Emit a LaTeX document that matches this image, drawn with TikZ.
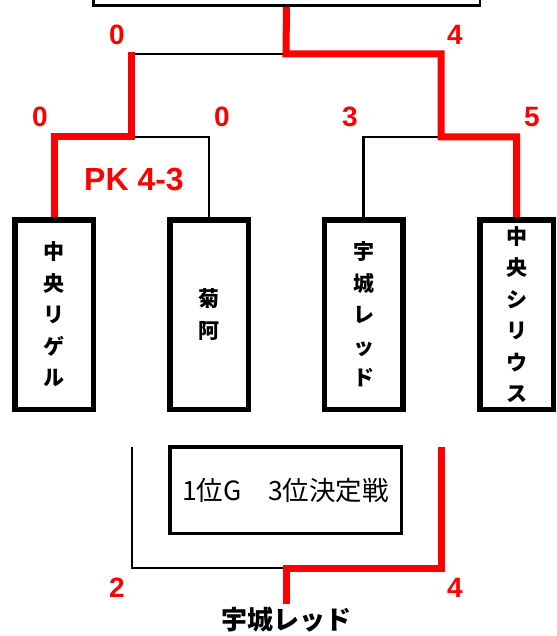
\documentclass[tikz,border=0pt]{standalone}
\usepackage{fontspec}
\newfontfamily\jp{Noto Sans CJK JP}
\newfontfamily\lsans{Liberation Sans}
\begin{document}
\begin{tikzpicture}[x=1pt,y=-1pt,
  team/.style={draw=black,line width=5.5pt,minimum width=78.5pt,minimum height=189.5pt,inner sep=0pt,
    align=center,font={\jp\bfseries\fontsize{21}{31.5}\selectfont}},
  blk/.style={draw=black,line width=2.7pt},
  red/.style={draw=red,line width=7pt,miter limit=10},
  score/.style={text=red,inner sep=0pt,font={\lsans\bfseries\fontsize{28}{30}\selectfont}}]
\useasboundingbox (0,0) rectangle (556,636);
\clip (0,0) rectangle (556,636);
\fill[white] (0,0) rectangle (556,636);
% top (final) box, mostly off the picture
\node[draw=black,line width=2.5pt,minimum width=386.5pt,minimum height=100pt,inner sep=0pt] (final) at (286.5,-44.25) {};
% teams
\node[team] (b1) at (54,314.5) {中\\央\\リ\\ゲ\\ル};
\node[team] (b2) at (209,314.5) {菊\\阿};
\node[team] (b3) at (363.5,314.5) {宇\\城\\レ\\ッ\\ド};
\node[team,minimum width=73.5pt] (b4) at (516.5,314.5) {中\\央\\シ\\リ\\ウ\\ス};
% third place box
\node[draw=black,line width=3.5pt,minimum width=231.5pt,minimum height=86.5pt,inner sep=0pt,
  font={\jp\fontsize{26.5}{30}\selectfont}] (third) at (285.5,490) {1位G　3位決定戦};
% junctions
\coordinate (jF) at (286,54);
\coordinate (jL) at (131,54);
\coordinate (jR) at (441,54);
\coordinate (qL) at (131,137);
\coordinate (qR) at (441,137);
\coordinate (lL) at (132,447);
\coordinate (lR) at (441,447);
\coordinate (w) at (286,568);
% winner
\node[inner sep=3pt,font={\jp\bfseries\fontsize{26}{30}\selectfont}] (champ) at (286,620) {宇城レッド};
% black connectors
\draw[blk] (jL) -- (jF);
\draw[blk] (qL) -- (qL -| b2.north) -- (b2.north);
\draw[blk] (qR) -- (qR -| b3.north) -- (b3.north);
\draw[blk] (lL) -- (lL |- w) -- (w);
% red connectors
\draw[red] (final.south) -- (jF) -- (jR) -- (qR) -- (qR -| b4.north) -- (b4.north);
\draw[red] ([yshift=1.5pt]jL) -- (qL) -- (qL -| b1.north) -- (b1.north);
\draw[red] (lR) -- (lR |- w) -- (w) -- (champ.north);
% scores
\node[score] (s1) at (117,35) {0};
\node[score] (s2) at (455,35) {4};
\node[score] (s3) at (40,117) {0};
\node[score] (s4) at (222,117) {0};
\node[score] (s5) at (350,117) {3};
\node[score] (s6) at (532,117) {5};
\node[score] (s7) at (117,588) {2};
\node[score] (s8) at (455,588) {4};
\node[score,font={\lsans\bfseries\fontsize{32}{34}\selectfont}] (pk) at (134,180) {PK 4-3};
\end{tikzpicture}
\end{document}
